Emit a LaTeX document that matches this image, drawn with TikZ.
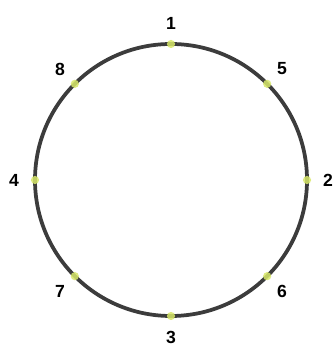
\documentclass[tikz,border=0pt]{standalone}
\usepackage{fontspec}
\setmainfont{Liberation Sans}
\usepackage{tikz}
\usetikzlibrary{positioning}
\definecolor{ringgray}{HTML}{3C3C3C}
\definecolor{ptyellow}{HTML}{D8E86A}

\begin{document}
\begin{tikzpicture}[
  x=0.03cm,y=0.03cm,
  ring/.style={draw=ringgray,line width=3.2pt},
  pt/.style={circle,fill=ptyellow,opacity=0.85,inner sep=0pt,minimum size=7pt},
  num/.style={font=\fontsize{15}{15}\selectfont\bfseries,inner sep=0pt,text=black}
]
\useasboundingbox (0,0) rectangle (333,349);
\coordinate (c) at (171,169);
\draw[ring] (c) circle[radius=136];
\foreach \lab/\ang in {1/90,5/45,2/0,6/-45,3/-90,7/-135,4/180,8/135}{
  \node[pt] (p\lab) at ([shift={(\ang:136)}]c) {};
  \node[num] (n\lab) at ([shift={(\ang:157)}]c) {\lab};
}
\end{tikzpicture}
\end{document}
